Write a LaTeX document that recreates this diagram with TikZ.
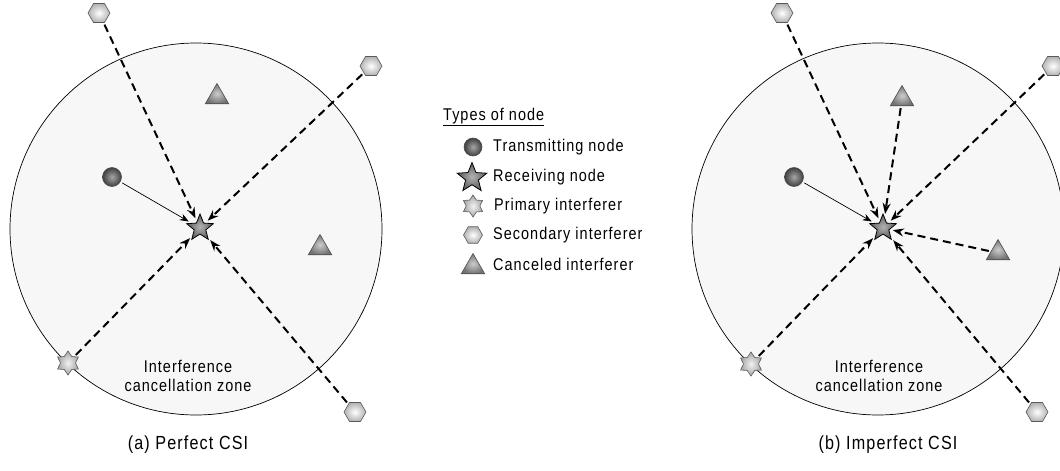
\documentclass[tikz,border=0pt]{standalone}
\usepackage{fontspec}
\setmainfont{Liberation Sans}[FakeStretch=0.85, LetterSpace=6]
\usetikzlibrary{shapes.geometric,arrows.meta}

\tikzset{
  zone/.style={draw=black, line width=0.7pt, fill=black!3},
  txnode/.style={circle, inner sep=0pt, minimum size=19pt, draw=black!70, line width=0.6pt,
    shading=radial, inner color=black!35, outer color=black!75},
  rxnode/.style={star, star points=5, star point ratio=2.3, inner sep=0pt, minimum size=28pt,
    draw=black, line width=0.8pt, shading=radial, inner color=black!30, outer color=black!65},
  prinode/.style={star, star points=6, star point ratio=1.6, inner sep=0pt, minimum size=24pt,
    draw=black!65, line width=0.6pt, shading=radial, inner color=black!5, outer color=black!35},
  secnode/.style={regular polygon, regular polygon sides=6, inner sep=0pt, minimum size=22pt,
    draw=black!65, line width=0.6pt, shading=radial, inner color=white, outer color=black!30},
  cannode/.style={regular polygon, regular polygon sides=3, inner sep=0pt, minimum size=27pt,
    draw=black!70, line width=0.6pt, shading=radial, inner color=black!20, outer color=black!55},
  intf/.style={line width=2pt, dash pattern=on 8pt off 5pt,
    -{Stealth[length=11pt,width=8pt]}, shorten >=3pt, shorten <=2pt},
  sig/.style={line width=0.7pt, -{Stealth[length=9pt,width=7pt]}, shorten >=3pt, shorten <=2pt},
  zonetext/.style={align=center, inner sep=0pt, font=\fontsize{17}{18.5}\selectfont},
  captext/.style={inner sep=0pt, font=\fontsize{19}{21}\selectfont},
  legtext/.style={anchor=west, inner sep=0pt, font=\fontsize{17}{19}\selectfont},
}

\begin{document}
\begin{tikzpicture}[x=1pt, y=-1pt]
\useasboundingbox (0,0) rectangle (1060,471);

% ---------- (a) perfect CSI ----------
\draw[zone] (196,229) circle[radius=186];
\node[zonetext] (za) at (188,376) {Interference\\cancellation zone};
\node[captext] (ca) at (188,445) {(a) Perfect CSI};

\node[cannode] (ca1) at (217,97) {};
\node[cannode] (ca2) at (320,248) {};
\node[secnode] (sa1) at (99,13) {};
\node[secnode] (sa2) at (371,66) {};
\node[secnode] (sa3) at (355,412) {};
\node[txnode]  (ta)  at (112,177) {};
\node[rxnode]  (ra)  at (200,228) {};
\node[prinode] (pa)  at (68,363) {};

\draw[intf] (sa1) -- (ra);
\draw[intf] (sa2) -- (ra);
\draw[intf] (sa3) -- (ra);
\draw[intf] (pa) -- (ra);
\draw[sig]  (ta) -- (ra);

% ---------- legend ----------
\node[legtext] (lh) at (443,117) {\underline{Types of node}};
\node[txnode, minimum size=18pt] (l1) at (473,147) {};
\node[legtext] (l1t) at (493,147) {Transmitting node};
\node[rxnode, minimum size=31pt] (l2) at (472,178) {};
\node[legtext] (l2t) at (493,177) {Receiving node};
\node[prinode, minimum size=22pt] (l3) at (473,206) {};
\node[legtext] (l3t) at (494,206) {Primary interferer};
\node[secnode, minimum size=19pt] (l4) at (473,235) {};
\node[legtext] (l4t) at (493,235) {Secondary interferer};
\node[cannode, minimum size=27pt] (l5) at (473,267) {};
\node[legtext] (l5t) at (493,264) {Canceled interferer};

% ---------- (b) imperfect CSI ----------
\draw[zone] (878,229) circle[radius=186];
\node[zonetext] (zb) at (879,376) {Interference\\cancellation zone};
\node[captext] (cb) at (888,445) {(b) Imperfect CSI};

\node[cannode] (cb1) at (902,99) {};
\node[cannode] (cb2) at (998,253) {};
\node[secnode] (sb1) at (782,13) {};
\node[secnode] (sb2) at (1053,66) {};
\node[secnode] (sb3) at (1037,412) {};
\node[txnode]  (tb)  at (794,177) {};
\node[rxnode]  (rb)  at (883,228) {};
\node[prinode] (pb)  at (751,364) {};

\draw[intf] (sb1) -- (rb);
\draw[intf] (sb2) -- (rb);
\draw[intf] (sb3) -- (rb);
\draw[intf] (pb) -- (rb);
\draw[intf] (cb1) -- (rb);
\draw[intf] (cb2) -- (rb);
\draw[sig]  (tb) -- (rb);
\end{tikzpicture}
\end{document}
